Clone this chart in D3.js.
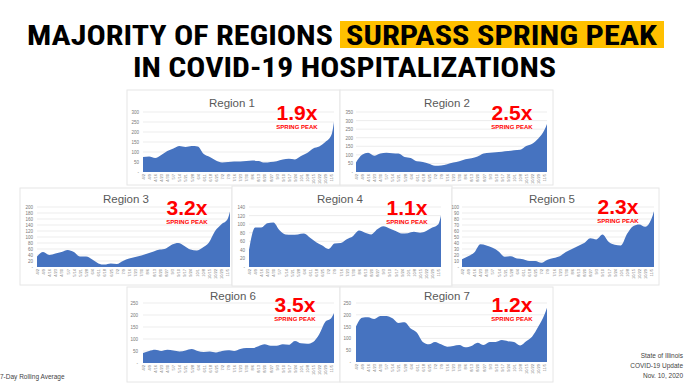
<!DOCTYPE html>
<html>
<head>
<meta charset="utf-8">
<script src="https://cdn.jsdelivr.net/npm/d3@7"></script>
<style>
  body { margin: 0; background: #fff; }
  svg { display: block; }
</style>
</head>
<body>
<svg id="chart" width="696" height="392"></svg>
<script>
// weekly tick labels on every panel, last data point is 11/8
var tickLabels = ["4/2","4/9","4/16","4/23","4/30","5/7","5/14","5/21","5/28","6/4","6/11","6/18","6/25",
    "7/2","7/9","7/16","7/23","7/30","8/6","8/13","8/20","8/27","9/3","9/10","9/17","9/24",
    "10/1","10/8","10/15","10/22","10/29","11/5"];
var dataDates = tickLabels.concat(["11/8"]);

var regionNames = ["Region 1","Region 2","Region 3","Region 4","Region 5","Region 6","Region 7"];
var multipliers = ["1.9x","2.5x","3.2x","1.1x","2.3x","3.5x","1.2x"];
var yMax = [300, 350, 200, 140, 100, 250, 250];
var yStep = [50, 50, 20, 20, 10, 50, 50];

// 7-day rolling average hospitalizations
var region1 = [75,78,70,85,105,118,130,125,130,128,90,75,58,48,50,53,52,55,57,55,47,50,54,62,66,63,80,95,118,127,150,185,250];
var region2 = [55,100,112,95,108,112,110,108,88,82,62,58,48,36,38,45,55,62,75,80,90,108,112,115,118,122,127,130,152,165,195,245,280];
var region3 = [35,50,40,45,50,57,50,35,35,25,12,8,12,10,20,28,33,38,45,52,58,62,75,80,70,58,55,65,82,120,142,158,185];
var region4 = [40,92,92,102,104,86,76,75,76,78,68,58,50,42,55,56,65,72,85,80,76,88,95,90,84,78,79,82,80,84,92,100,120];
var region5 = [13,18,24,38,36,32,26,17,18,14,13,10,10,7,12,15,18,25,30,35,40,48,46,54,42,37,36,55,68,71,67,80,93];
var region6 = [42,50,55,50,55,52,48,52,58,50,46,48,44,50,53,50,58,62,62,70,78,72,72,78,76,92,82,80,88,120,172,188,208];
var region7 = [150,188,190,182,195,195,185,165,168,142,125,85,75,85,75,65,68,72,62,68,82,72,85,85,93,88,85,70,88,108,150,200,230];
var regionValues = [region1, region2, region3, region4, region5, region6, region7];

// panel placement on the slide
var layout = [
    {box: [127, 90, 213, 95],  plot: [143, 334, 112, 172], title: [232, 107], mult: [297, 120], yLab: 139},
    {box: [340, 90, 213, 95],  plot: [356, 547, 112, 172], title: [447, 107], mult: [512, 120], yLab: 353},
    {box: [20, 188, 212, 97],  plot: [37, 230, 207, 267],  title: [126, 203], mult: [187, 215], yLab: 33},
    {box: [232, 186, 220, 100], plot: [249, 441, 207, 267], title: [340, 203], mult: [407, 215], yLab: 245},
    {box: [452, 188, 207, 97], plot: [462, 654, 207, 267], title: [552, 203], mult: [618, 214], yLab: 459},
    {box: [127, 287, 213, 95], plot: [143, 334, 303, 363], title: [233, 300], mult: [295, 312], yLab: 138},
    {box: [340, 287, 213, 95], plot: [356, 547, 303, 362], title: [447, 300], mult: [512, 312], yLab: 351}
];

var parseDate = d3.timeParse("%m/%d/%Y");
function toDate(s) { return parseDate(s + "/2020"); }

var svg = d3.select("#chart");
var headFont = "'Liberation Sans Narrow', 'Roboto Condensed', 'DejaVu Sans Condensed', Arial, sans-serif";
var bodyFont = "'Liberation Sans', Arial, Helvetica, sans-serif";

//HEADLINE
svg.append("rect")
    .attr("x", 340).attr("y", 21)
    .attr("width", 324).attr("height", 27)
    .attr("fill", "#FFC000");

svg.append("text")
    .attr("x", 27).attr("y", 45)
    .attr("textLength", 306).attr("lengthAdjust", "spacingAndGlyphs")
    .style("font-family", headFont).style("font-weight", "bold").style("font-size", "28px")
    .attr("fill", "#000")
    .text("MAJORITY OF REGIONS");
svg.append("text")
    .attr("x", 346).attr("y", 45)
    .attr("textLength", 311).attr("lengthAdjust", "spacingAndGlyphs")
    .style("font-family", headFont).style("font-weight", "bold").style("font-size", "28px")
    .attr("fill", "#000")
    .text("SURPASS SPRING PEAK");
svg.append("text")
    .attr("x", 133).attr("y", 77)
    .attr("textLength", 423).attr("lengthAdjust", "spacingAndGlyphs")
    .style("font-family", headFont).style("font-weight", "bold").style("font-size", "28px")
    .attr("fill", "#000")
    .text("IN COVID-19 HOSPITALIZATIONS");

//PANELS
regionValues.forEach(function (values, i) {
    var L = layout[i];
    var g = svg.append("g");

    g.append("rect")
        .attr("x", L.box[0]).attr("y", L.box[1])
        .attr("width", L.box[2]).attr("height", L.box[3])
        .attr("fill", "#fff")
        .attr("stroke", "#e6e6e6")
        .attr("stroke-width", 1);

    var xScale = d3.scaleTime()
        .domain([toDate(dataDates[0]), toDate(dataDates[dataDates.length - 1])])
        .range([L.plot[0], L.plot[1]]);
    var yScale = d3.scaleLinear()
        .domain([0, yMax[i]])
        .range([L.plot[3], L.plot[2]]);

    var yTicks = d3.range(0, yMax[i] + 1, yStep[i]);

    // gridlines
    g.selectAll(".grid")
        .data(yTicks.slice(1))
        .enter().append("line")
        .attr("x1", L.plot[0]).attr("x2", L.plot[1])
        .attr("y1", function (d) { return yScale(d); })
        .attr("y2", function (d) { return yScale(d); })
        .attr("stroke", "#e0e0e0")
        .attr("stroke-width", 0.6);

    // y labels
    var yAxis = d3.axisLeft(yScale)
        .tickValues(yTicks)
        .tickSize(0)
        .tickPadding(0)
        .tickFormat(function (d) { return d === 0 ? "-" : d; });
    var ya = g.append("g")
        .attr("transform", "translate(" + L.yLab + ",0)")
        .call(yAxis);
    ya.select(".domain").remove();
    ya.selectAll("text")
        .style("font-family", bodyFont).style("font-size", "4.5px")
        .attr("fill", "#777");

    // area
    var area = d3.area()
        .x(function (d, j) { return xScale(toDate(dataDates[j])); })
        .y0(L.plot[3])
        .y1(function (d) { return yScale(d); })
        .curve(d3.curveMonotoneX);
    g.append("path")
        .datum(values)
        .attr("d", area)
        .attr("fill", "#4673C0");

    // x labels, rotated
    var xAxis = d3.axisBottom(xScale)
        .tickValues(tickLabels.map(toDate))
        .tickSize(0)
        .tickPadding(0)
        .tickFormat(d3.timeFormat("%-m/%-d"));
    var xa = g.append("g")
        .attr("transform", "translate(0," + (L.plot[3] + 2) + ")")
        .call(xAxis);
    xa.select(".domain").remove();
    xa.selectAll("text")
        .style("font-family", bodyFont).style("font-size", "4px")
        .attr("fill", "#777")
        .attr("dy", "0.35em")
        .attr("y", 0)
        .attr("transform", "rotate(-90)")
        .style("text-anchor", "end");

    // title
    g.append("text")
        .attr("x", L.title[0]).attr("y", L.title[1])
        .attr("text-anchor", "middle")
        .style("font-family", bodyFont).style("font-size", "11.5px")
        .attr("fill", "#595959")
        .text(regionNames[i]);

    // multiplier
    g.append("text")
        .attr("x", L.mult[0]).attr("y", L.mult[1])
        .attr("text-anchor", "middle")
        .style("font-family", bodyFont).style("font-weight", "bold").style("font-size", "21px")
        .attr("fill", "#FF0000")
        .text(multipliers[i]);
    g.append("text")
        .attr("x", L.mult[0]).attr("y", L.mult[1] + 9)
        .attr("text-anchor", "middle")
        .style("font-family", bodyFont).style("font-weight", "bold").style("font-size", "6px")
        .attr("fill", "#FF0000")
        .text("SPRING PEAK");
});

//FOOTER
svg.append("text")
    .attr("x", 0).attr("y", 379)
    .style("font-family", bodyFont).style("font-size", "6.5px")
    .attr("fill", "#444")
    .text("7-Day Rolling Average");

var footLines = ["State of Illinois", "COVID-19 Update", "Nov. 10, 2020"];
svg.selectAll(".foot")
    .data(footLines)
    .enter().append("text")
    .attr("x", 683)
    .attr("y", function (d, k) { return 358 + k * 10; })
    .attr("text-anchor", "end")
    .style("font-family", bodyFont).style("font-size", "6.5px")
    .attr("fill", "#444")
    .text(function (d) { return d; });
</script>
</body>
</html>
